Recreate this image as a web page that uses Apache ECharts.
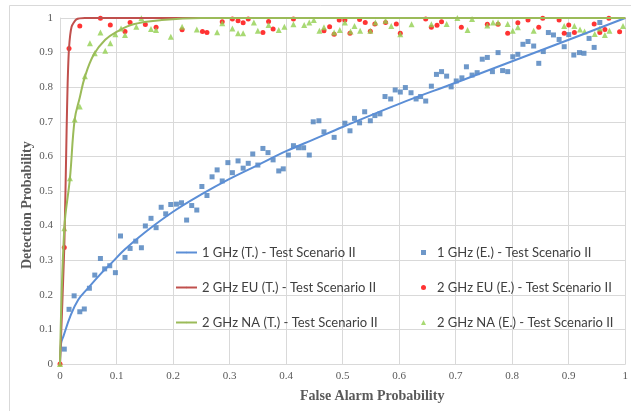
<!DOCTYPE html>
<html>
<head>
<meta charset="utf-8">
<script src="https://cdn.jsdelivr.net/npm/echarts@6/dist/echarts.min.js"></script>
</head>
<body style="margin:0">
<div id="main" style="width:631px;height:411px;"></div>
<script type="text/javascript">
// [false alarm probability, detection probability]
var ghz1Theory = [[0,0],[0.002,0.06],[0.006,0.08],[0.018,0.137],[0.032,0.185],[0.05,0.22],[0.07,0.257],[0.09,0.29],[0.114,0.33],[0.15,0.38],[0.2,0.44],[0.25,0.49],[0.3,0.535],[0.35,0.575],[0.4,0.615],[0.45,0.65],[0.5,0.685],[0.6,0.752],[0.7,0.813],[0.8,0.875],[0.9,0.937],[1,1]];
var ghz1Exp = [[0.0076,0.043],[0.016,0.158],[0.025,0.197],[0.035,0.151],[0.043,0.159],[0.052,0.219],[0.0615,0.257],[0.0715,0.305],[0.079,0.275],[0.088,0.284],[0.098,0.264],[0.107,0.37],[0.115,0.308],[0.124,0.334],[0.134,0.355],[0.144,0.336],[0.151,0.399],[0.161,0.421],[0.17,0.394],[0.179,0.453],[0.187,0.434],[0.196,0.461],[0.206,0.462],[0.215,0.466],[0.224,0.416],[0.233,0.458],[0.242,0.445],[0.251,0.513],[0.26,0.487],[0.269,0.541],[0.278,0.561],[0.287,0.529],[0.297,0.582],[0.305,0.553],[0.315,0.587],[0.324,0.566],[0.333,0.58],[0.341,0.607],[0.35,0.575],[0.359,0.623],[0.368,0.611],[0.377,0.59],[0.387,0.558],[0.395,0.564],[0.404,0.604],[0.413,0.631],[0.422,0.625],[0.431,0.625],[0.441,0.604],[0.448,0.70],[0.458,0.703],[0.467,0.671],[0.485,0.655],[0.504,0.696],[0.513,0.674],[0.521,0.71],[0.53,0.697],[0.539,0.729],[0.549,0.703],[0.557,0.718],[0.566,0.723],[0.575,0.773],[0.585,0.766],[0.593,0.792],[0.602,0.786],[0.611,0.799],[0.621,0.784],[0.63,0.766],[0.638,0.773],[0.647,0.76],[0.657,0.803],[0.666,0.837],[0.675,0.845],[0.684,0.832],[0.692,0.801],[0.701,0.818],[0.711,0.827],[0.719,0.859],[0.729,0.835],[0.738,0.842],[0.747,0.881],[0.756,0.886],[0.765,0.845],[0.775,0.9],[0.783,0.848],[0.792,0.845],[0.801,0.888],[0.81,0.895],[0.819,0.924],[0.828,0.932],[0.838,0.919],[0.847,0.869],[0.855,0.903],[0.864,0.958],[0.873,0.951],[0.883,0.938],[0.892,0.917],[0.9,0.952],[0.909,0.893],[0.919,0.9],[0.927,0.898],[0.936,0.941],[0.945,0.915],[0.955,0.987]];
var euTheory = [[0,0],[0.0076,0.337],[0.0117,0.676],[0.0135,0.81],[0.016,0.914],[0.0205,0.975],[0.029,0.996],[0.044,1],[0.1,1],[1,1]];
var euExp = [[0,0],[0.0076,0.337],[0.016,0.912],[0.035,0.977],[0.0715,0.999],[0.089,0.98],[0.115,0.961],[0.124,0.987],[0.151,0.981],[0.17,0.973],[0.216,0.966],[0.252,0.961],[0.26,0.958],[0.287,0.989],[0.305,0.997],[0.315,0.992],[0.324,0.986],[0.333,0.997],[0.359,0.958],[0.369,0.99],[0.377,0.968],[0.413,0.997],[0.467,0.963],[0.477,0.975],[0.485,0.953],[0.494,0.994],[0.504,0.994],[0.513,0.956],[0.53,0.996],[0.54,0.987],[0.549,0.962],[0.557,0.983],[0.576,0.987],[0.595,0.983],[0.602,0.956],[0.647,0.997],[0.657,0.973],[0.667,0.979],[0.675,0.989],[0.71,0.973],[0.756,0.982],[0.775,0.982],[0.792,0.956],[0.81,0.986],[0.828,0.994],[0.847,0.973],[0.854,0.999],[0.883,0.994],[0.892,0.956],[0.9,0.98],[0.91,0.958],[0.945,0.983],[0.955,0.958],[0.964,0.967],[0.971,0.999],[0.99,0.96]];
var naTheory = [[0,0],[0.0076,0.392],[0.0176,0.537],[0.026,0.707],[0.035,0.77],[0.044,0.83],[0.06,0.895],[0.08,0.937],[0.1,0.96],[0.13,0.982],[0.18,0.994],[0.25,1],[1,1]];
var naExp = [[0,0],[0.0076,0.392],[0.0176,0.537],[0.026,0.707],[0.035,0.744],[0.044,0.832],[0.053,0.927],[0.0615,0.898],[0.0715,0.958],[0.08,0.905],[0.089,0.927],[0.098,0.953],[0.108,0.97],[0.115,0.951],[0.135,0.975],[0.144,0.999],[0.161,0.968],[0.17,0.965],[0.196,0.946],[0.216,0.975],[0.242,0.967],[0.278,0.959],[0.287,0.985],[0.305,0.97],[0.315,0.956],[0.324,0.956],[0.343,0.987],[0.35,0.963],[0.369,0.98],[0.387,0.965],[0.397,0.975],[0.413,0.982],[0.432,0.98],[0.441,0.987],[0.449,0.994],[0.459,0.963],[0.467,0.973],[0.485,0.958],[0.495,0.965],[0.504,0.987],[0.514,0.961],[0.521,0.977],[0.531,0.963],[0.549,0.963],[0.558,0.987],[0.576,0.992],[0.586,0.977],[0.602,0.953],[0.622,0.982],[0.657,0.982],[0.684,0.983],[0.703,1.0],[0.721,0.965],[0.729,0.997],[0.756,0.978],[0.766,0.987],[0.775,0.987],[0.792,0.983],[0.801,0.963],[0.81,0.973],[0.838,0.963],[0.892,0.977],[0.91,0.977],[0.92,0.967],[0.928,0.961],[0.946,0.954],[0.955,0.97],[0.964,0.951],[0.972,0.963],[0.996,0.977]];

var names = [
	'1 GHz (T.) - Test Scenario II', '1 GHz (E.) - Test Scenario II',
	'2 GHz EU (T.) - Test Scenario II', '2 GHz EU (E.) - Test Scenario II',
	'2 GHz NA (T.) - Test Scenario II', '2 GHz NA (E.) - Test Scenario II'
];

var myChart = echarts.init(document.getElementById('main'));

var serif = 'Liberation Serif';
var legendFont = 'Lato';

function axisOpt() {
	return {
		type: 'value',
		min: 0,
		max: 1,
		interval: 0.1,
		axisLine: { show: true, lineStyle: { color: '#d9d9d9' } },
		axisTick: { show: false },
		axisLabel: { margin: 7, fontFamily: serif, fontSize: 11, color: '#595959' },
		splitLine: { lineStyle: { color: '#d9d9d9', width: 1 } }
	};
}

// legend items: one legend per entry so the 2x3 layout is exact
var legendRows = [254, 289, 324];
var legends = [];
for (var i = 0; i < 6; i++) {
	var row = Math.floor(i / 2), col = i % 2;
	legends.push({
		data: [names[i]],
		left: col === 0 ? 175 : 421,
		top: legendRows[row] - 8,
		padding: 0,
		itemWidth: col === 0 ? 21 : 5,
		itemHeight: col === 0 ? 2 : 5,
		selectedMode: false,
		textStyle: {
			fontFamily: legendFont, fontSize: 13, color: '#404040',
			padding: col === 0 ? 0 : [0, 0, 0, 6]
		}
	});
}

option = {
	animation: false,
	backgroundColor: '#fff',
	grid: { left: 60, right: 2, top: 18, bottom: 47 },
	legend: legends,
	xAxis: axisOpt(),
	yAxis: axisOpt(),
	graphic: [
		{ type: 'rect', shape: { x: 9.5, y: 5.5, width: 700, height: 500 }, style: { fill: null, stroke: '#d9d9d9', lineWidth: 1 }, silent: true, z: -1 },
		{ type: 'text', left: 300, top: 389, style: { text: 'False Alarm Probability', font: 'bold 14px "Liberation Serif"', fill: '#595959' } },
		{ type: 'text', x: 20, y: 269, rotation: Math.PI / 2, style: { text: 'Detection Probability', font: 'bold 14px "Liberation Serif"', fill: '#595959' } }
	],
	series: [
		{ name: names[0], type: 'line', data: ghz1Theory, symbol: 'none', smooth: 0.4, lineStyle: { color: '#5b8ed6', width: 2 }, itemStyle: { color: '#5b8ed6' } },
		{ name: names[1], type: 'scatter', data: ghz1Exp, symbol: 'rect', symbolSize: 5, itemStyle: { color: '#4a7ebb' } },
		{ name: names[2], type: 'line', data: euTheory, symbol: 'none', smooth: 0.2, lineStyle: { color: '#c0504d', width: 2 }, itemStyle: { color: '#c0504d' } },
		{ name: names[3], type: 'scatter', data: euExp, symbol: 'circle', symbolSize: 5, itemStyle: { color: '#ff0000' } },
		{ name: names[4], type: 'line', data: naTheory, symbol: 'none', smooth: 0.4, lineStyle: { color: '#9bbb59', width: 2 }, itemStyle: { color: '#9bbb59' } },
		{ name: names[5], type: 'scatter', data: naExp, symbol: 'triangle', symbolSize: 6, itemStyle: { color: '#92d050' } }
	]
};

myChart.setOption(option);
</script>
</body>
</html>
